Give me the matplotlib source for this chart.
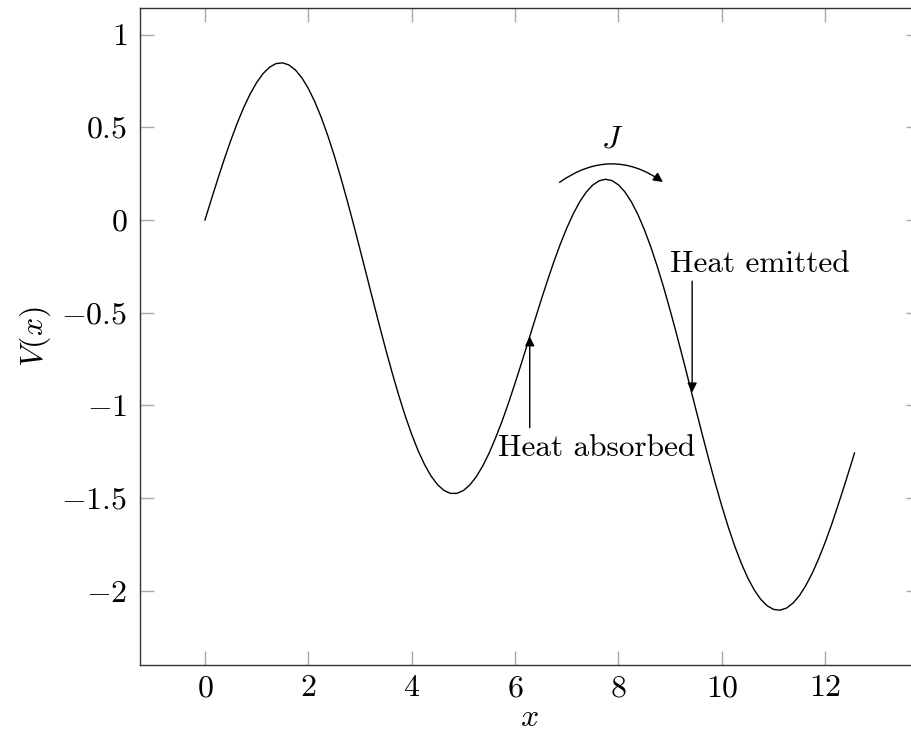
import matplotlib
matplotlib.use("Agg")
import matplotlib.pyplot as plt
from matplotlib.patches import FancyArrowPatch
from matplotlib.transforms import Bbox

plt.rcParams['mathtext.fontset'] = 'cm'
plt.rcParams['font.family'] = 'serif'
plt.rcParams['font.serif'] = ['cmr10', 'DejaVu Serif']
plt.rcParams['axes.formatter.use_mathtext'] = True

# Curve values
x_vals = [0.0, 0.125, 0.25, 0.375, 0.5, 0.625, 0.75, 0.875, 1.0, 1.125, 1.25,
          1.375, 1.5, 1.625, 1.75, 1.875, 2.0, 2.125, 2.25, 2.375, 2.5, 2.625,
          2.75, 2.875, 3.0, 3.125, 3.25, 3.375, 3.5, 3.625, 3.75, 3.875, 4.0,
          4.125, 4.25, 4.375, 4.5, 4.625, 4.75, 4.875, 5.0, 5.125, 5.25, 5.375,
          5.5, 5.625, 5.75, 5.875, 6.0, 6.125, 6.25, 6.375, 6.5, 6.625, 6.75,
          6.875, 7.0, 7.125, 7.25, 7.375, 7.5, 7.625, 7.75, 7.875, 8.0, 8.125,
          8.25, 8.375, 8.5, 8.625, 8.75, 8.875, 9.0, 9.125, 9.25, 9.375, 9.5,
          9.625, 9.75, 9.875, 10.0, 10.125, 10.25, 10.375, 10.5, 10.625, 10.75,
          10.875, 11.0, 11.125, 11.25, 11.375, 11.5, 11.625, 11.75, 11.875,
          12.0, 12.125, 12.25, 12.375, 12.5, 12.566]
v_vals = [0.0, 0.1122, 0.2224, 0.3288, 0.4294, 0.5226, 0.6066, 0.6800, 0.7415,
          0.7898, 0.8240, 0.8434, 0.8475, 0.8360, 0.8090, 0.7666, 0.7093,
          0.6377, 0.5531, 0.4561, 0.3485, 0.2314, 0.1067, -0.0240, -0.1589,
          -0.2959, -0.4332, -0.5688, -0.7008, -0.8273, -0.9466, -1.0569,
          -1.1568, -1.2451, -1.3200, -1.3811, -1.4275, -1.4587, -1.4743,
          -1.4743, -1.4589, -1.4286, -1.3839, -1.3259, -1.2555, -1.1729,
          -1.0833, -0.9844, -0.8794, -0.7700, -0.6582, -0.5458, -0.4349,
          -0.3273, -0.2250, -0.1297, -0.0430, 0.0333, 0.0981, 0.1500, 0.1880,
          0.2114, 0.2196, 0.2123, 0.1894, 0.1510, 0.0976, 0.0298, -0.0515,
          -0.1453, -0.2503, -0.3649, -0.4879, -0.6172, -0.7511, -0.8877,
          -1.0251, -1.1614, -1.2945, -1.4227, -1.5440, -1.6568, -1.7597,
          -1.8512, -1.9297, -1.9946, -2.0450, -2.0802, -2.1000, -2.1041,
          -2.0928, -2.0664, -2.0255, -1.9709, -1.9037, -1.8251, -1.7366,
          -1.6405, -1.5360, -1.4278, -1.3163, -1.2566]

x_ticks = [0, 2, 4, 6, 8, 10, 12]
x_tick_labels = ['$0$', '$2$', '$4$', '$6$', '$8$', '$10$', '$12$']
y_ticks = [1, 0.5, 0, -0.5, -1, -1.5, -2]
y_tick_labels = ['$1$', '$0.5$', '$0$', '$-0.5$', '$-1$', '$-1.5$', '$-2$']

# Annotation anchors (data coordinates)
absorbed_arrow = [(6.283, -1.12), (6.283, -0.628)]
absorbed_text = (7.57, -1.228)
emitted_arrow = [(9.425, -0.33), (9.425, -0.93)]
emitted_text = (10.74, -0.236)
j_arrow = [(6.86, 0.203), (8.86, 0.205)]
j_text = (7.87, 0.433)

W, H = 912, 738
WB = 930  # draw on a wider canvas, then crop to W so the right spine falls outside
fig = plt.figure(figsize=(WB / 100, H / 100), dpi=100)
ax = fig.add_axes([140 / WB, 73 / H, 779.5 / WB, 657 / H])

ax.plot(x_vals, v_vals, color='black', lw=1.0)

ax.set_xlim(-1.2566, 13.823)
ax.set_ylim(-2.3998, 1.1432)

ax.set_xticks(x_ticks)
ax.set_xticklabels(x_tick_labels)
ax.set_yticks(y_ticks)
ax.set_yticklabels(y_tick_labels)
ax.tick_params(direction='in', length=10, width=1.0, color='#aaaaaa',
               top=True, right=True, labelsize=23)
ax.tick_params(axis='x', pad=7)
ax.tick_params(axis='y', pad=9)
for s in ax.spines.values():
    s.set_linewidth(1.0)
    s.set_color('#333333')
ax.spines['right'].set_visible(False)

ax.set_xlabel('$x$', fontsize=23, labelpad=2)
ax.set_ylabel('$V(x)$', fontsize=23, labelpad=6)

fs = 22.5
ax.annotate('', xy=absorbed_arrow[1], xytext=absorbed_arrow[0],
            arrowprops=dict(arrowstyle='-|>', color='black', lw=1.0,
                            mutation_scale=14, shrinkA=0, shrinkB=0))
ax.text(*absorbed_text, 'Heat absorbed', fontsize=fs, ha='center', va='center')

ax.annotate('', xy=emitted_arrow[1], xytext=emitted_arrow[0],
            arrowprops=dict(arrowstyle='-|>', color='black', lw=1.0,
                            mutation_scale=14, shrinkA=0, shrinkB=0))
ax.text(*emitted_text, 'Heat emitted', fontsize=fs, ha='center', va='center')

arc = FancyArrowPatch(j_arrow[0], j_arrow[1], connectionstyle='arc3,rad=-0.35',
                      arrowstyle='-|>', color='black', lw=1.0,
                      mutation_scale=14, shrinkA=0, shrinkB=0)
ax.add_patch(arc)
ax.text(*j_text, '$J$', fontsize=23, ha='center', va='center')

fig.savefig('out.png', dpi=100,
            bbox_inches=Bbox([[0, 0], [W / 100, H / 100]]))
